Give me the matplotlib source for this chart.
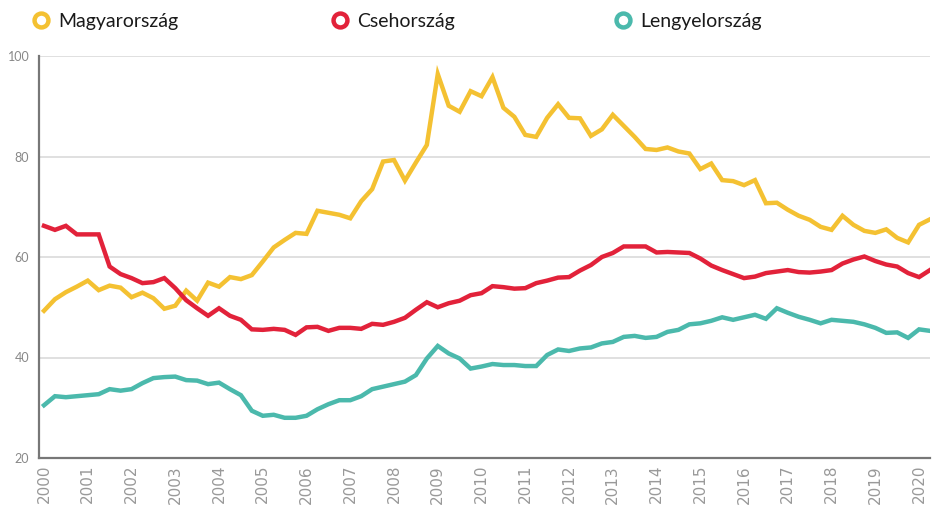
import numpy as np
import matplotlib.pyplot as plt
from matplotlib.lines import Line2D

# quarterly values, 2000 Q1 .. 2020 Q2
hu = [49.3, 51.6, 53.0, 54.1, 55.3, 53.4, 54.3, 53.9, 52.0, 52.9,
      51.8, 49.7, 50.3, 53.3, 51.3, 54.9, 54.1, 56.0, 55.6, 56.4,
      59.1, 61.9, 63.4, 64.8, 64.6, 69.2, 68.8, 68.4, 67.7, 71.1,
      73.5, 79.0, 79.3, 75.2, 78.8, 82.3, 96.4, 90.1, 88.9, 93.0,
      92.0, 95.8, 89.7, 87.9, 84.3, 83.9, 87.7, 90.4, 87.7, 87.6,
      84.1, 85.4, 88.3, 86.1, 83.9, 81.5, 81.3, 81.8, 81.0, 80.6,
      77.5, 78.6, 75.3, 75.1, 74.3, 75.3, 70.7, 70.8, 69.4, 68.2,
      67.4, 66.0, 65.4, 68.2, 66.4, 65.2, 64.8, 65.5, 63.8, 62.9,
      66.4, 67.5]
cz = [66.2, 65.4, 66.2, 64.5, 64.5, 64.5, 58.1, 56.6, 55.8, 54.8,
      55.0, 55.8, 53.8, 51.4, 49.8, 48.3, 49.8, 48.3, 47.5, 45.6,
      45.5, 45.7, 45.5, 44.5, 46.0, 46.1, 45.3, 45.9, 45.9, 45.7,
      46.7, 46.5, 47.1, 47.9, 49.5, 51.0, 50.0, 50.8, 51.3, 52.4,
      52.8, 54.2, 54.0, 53.7, 53.8, 54.8, 55.3, 55.9, 56.0, 57.3,
      58.4, 60.0, 60.8, 62.1, 62.1, 62.1, 60.9, 61.0, 60.9, 60.8,
      59.7, 58.3, 57.4, 56.6, 55.8, 56.1, 56.8, 57.1, 57.4, 57.0,
      56.9, 57.1, 57.4, 58.7, 59.5, 60.1, 59.2, 58.5, 58.1, 56.8,
      56.0, 57.4]
pl = [30.5, 32.3, 32.1, 32.3, 32.5, 32.7, 33.7, 33.4, 33.7, 34.9,
      35.9, 36.1, 36.2, 35.5, 35.4, 34.7, 35.0, 33.7, 32.5, 29.4,
      28.4, 28.6, 28.0, 28.0, 28.4, 29.7, 30.7, 31.5, 31.5, 32.3,
      33.7, 34.2, 34.7, 35.2, 36.5, 39.8, 42.3, 40.8, 39.8, 37.8,
      38.2, 38.7, 38.5, 38.5, 38.3, 38.3, 40.5, 41.6, 41.3, 41.8,
      42.0, 42.8, 43.1, 44.1, 44.3, 43.9, 44.1, 45.1, 45.5, 46.6,
      46.8, 47.3, 48.0, 47.5, 48.0, 48.5, 47.7, 49.8, 48.9, 48.1,
      47.5, 46.8, 47.5, 47.3, 47.1, 46.6, 45.9, 44.9, 45.0, 43.9,
      45.6, 45.3]
t = 2000 + np.arange(len(hu)) / 4
years = list(range(2000, 2021))

names = ['Magyarország', 'Csehország', 'Lengyelország']
colors = ['#F4C132', '#E2223A', '#4BB9AC']

fig = plt.figure(figsize=(9.32, 5.11), dpi=100)
ax = fig.add_axes([39/932, 1 - 458/511, 891/932, 402/511])

for ys, c in zip([hu, cz, pl], colors):
    ax.plot(t, ys, color=c, lw=3.2, solid_joinstyle='miter', zorder=3)

ax.set_ylim(20, 100)
ax.set_xlim(2000 - 5/43.75, t[-1])
ax.set_yticks([20, 40, 60, 80, 100])
ax.set_xticks(years)
ax.set_xticklabels([str(y) for y in years], rotation=90, fontsize=11,
                   color='#999999', family='DejaVu Sans')
for lab in ax.get_yticklabels():
    lab.set_family('Lato')
ax.tick_params(axis='y', length=0, pad=7, labelsize=9, labelcolor='#888888')
ax.tick_params(axis='x', length=0, pad=5)
ax.grid(axis='y', color='#dddddd', lw=1.3, zorder=0)
for s in ['top', 'right']:
    ax.spines[s].set_visible(False)
for s in ['left', 'bottom']:
    ax.spines[s].set_color('#777777')
    ax.spines[s].set_linewidth(1.6)

# legend across the top
leg_x = [41, 340, 623]
for x, name, c in zip(leg_x, names, colors):
    fig.add_artist(Line2D([x/932], [1 - 20/511], transform=fig.transFigure,
                          marker='o', ms=10, mfc='white', mec=c, mew=3.2, ls=''))
    fig.text((x + 17)/932, 1 - 21/511, name, fontsize=14, family='Lato',
             color='#1a1a1a', va='center', ha='left')

fig.savefig('out.png', dpi=100)
